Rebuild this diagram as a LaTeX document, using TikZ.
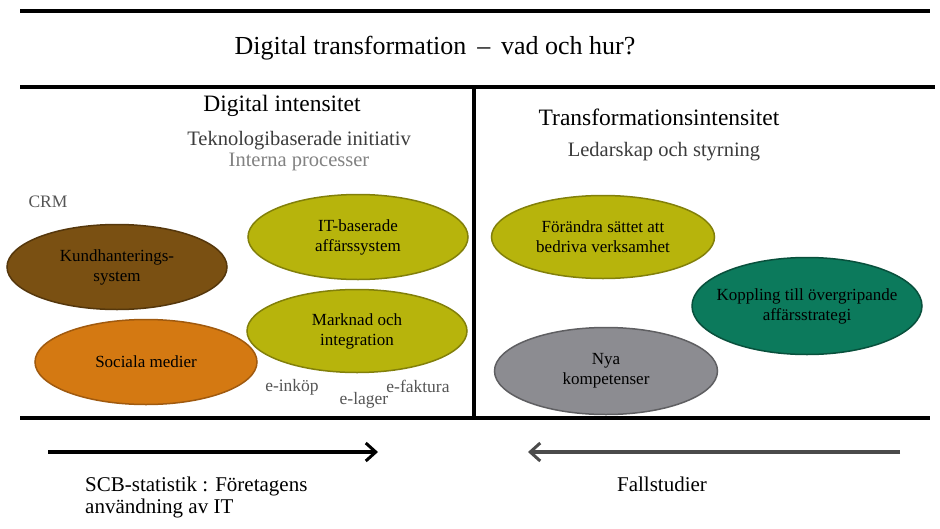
\documentclass[tikz,border=0pt]{standalone}
\usepackage{fontspec}
\setmainfont{Liberation Serif}
\usetikzlibrary{shapes.geometric,arrows.meta}
\definecolor{brownfill}{RGB}{122,80,18}
\definecolor{brownline}{RGB}{85,55,12}
\definecolor{orangefill}{RGB}{212,121,18}
\definecolor{orangeline}{RGB}{160,90,15}
\definecolor{olivefill}{RGB}{183,180,12}
\definecolor{oliveline}{RGB}{130,128,10}
\definecolor{tealfill}{RGB}{12,122,92}
\definecolor{tealline}{RGB}{8,80,60}
\definecolor{grayfill}{RGB}{140,140,145}
\definecolor{grayline}{RGB}{95,95,98}
\definecolor{txtgray}{RGB}{85,85,85}
\definecolor{darkgraytxt}{RGB}{60,60,60}
\definecolor{lightgray}{RGB}{130,130,130}
\definecolor{arrowgray}{RGB}{75,75,75}
\tikzset{
  oval/.style={ellipse, draw, line width=1.5pt, inner xsep=-30pt, inner ysep=0pt, align=center, font=\fontsize{17}{20}\selectfont, text=black},
  rule/.style={line width=4pt, black},
  heading/.style={font=\fontsize{23.5}{26}\selectfont, text=black},
  subhead/.style={font=\fontsize{20.5}{23}\selectfont},
  small/.style={font=\fontsize{17.5}{20}\selectfont, text=txtgray},
  bigarrow/.style={line width=4pt, -{Straight Barb[length=10pt,width=18pt,line width=3pt]}}
}
\begin{document}
\begin{tikzpicture}[x=1pt,y=-1pt]
\useasboundingbox[fill=white] (0,0) rectangle (940,528);
% rules
\coordinate (t1) at (20,11); \coordinate (t2) at (930,11);
\coordinate (m1) at (20,87); \coordinate (m2) at (935,87);
\coordinate (b1) at (20,418); \coordinate (b2) at (930,418);
\coordinate (v1) at (474,87); \coordinate (v2) at (474,418);
\draw[rule] (t1) -- (t2);
\draw[rule] (m1) -- (m2);
\draw[rule] (b1) -- (b2);
\draw[line width=3.5pt] (v1) -- (v2);
% titles
\node[font=\fontsize{26}{30}\selectfont] (title) at (435,48) {Digital transformation \,--\, vad och hur?};
\node[heading] (di) at (282,106) {Digital intensitet};
\node[subhead, text=darkgraytxt] (tek) at (299,141) {Teknologibaserade initiativ};
\node[subhead, text=lightgray] (ip) at (299,162) {Interna processer};
\node[heading] (ti) at (659,117) {Transformationsintensitet};
\node[subhead, text=darkgraytxt] (ls) at (664,152) {Ledarskap och styrning};
\node[small] (crm) at (48,202) {CRM};
% ellipses
\node[oval, fill=brownfill, draw=brownline, minimum width=220pt, minimum height=85pt] (kund) at (117,267) {Kundhanterings-\\system};
\node[oval, fill=orangefill, draw=orangeline, minimum width=222pt, minimum height=85pt] (soc) at (146,362) {Sociala medier};
\node[oval, fill=olivefill, draw=oliveline, minimum width=220pt, minimum height=85pt] (itb) at (358,237) {IT-baserade\\affärssystem};
\node[oval, fill=olivefill, draw=oliveline, minimum width=220pt, minimum height=83pt] (mark) at (357,331) {Marknad och\\integration};
\node[oval, fill=olivefill, draw=oliveline, minimum width=223pt, minimum height=83pt] (for) at (603,237) {Förändra sättet att\\bedriva verksamhet};
\node[oval, fill=tealfill, draw=tealline, minimum width=230pt, minimum height=97pt] (kopp) at (807,306) {Koppling till övergripande\\affärsstrategi};
\node[oval, fill=grayfill, draw=grayline, minimum width=223pt, minimum height=87pt] (nya) at (606,371) {Nya\\kompetenser};
% small labels
\node[small] (einkop) at (292,387) {e-inköp};
\node[small] (elager) at (364,400) {e-lager};
\node[small] (efakt) at (418,386) {e-faktura};
% arrows
\coordinate (a1) at (48,452); \coordinate (a2) at (378,452);
\coordinate (c1) at (900,452); \coordinate (c2) at (528,452);
\draw[bigarrow, black] (a1) -- (a2);
\draw[bigarrow, arrowgray] (c1) -- (c2);
% bottom texts
\node[font=\fontsize{21}{22}\selectfont, align=left, anchor=base west, inner sep=0pt] (scb) at (85,513) {SCB-statistik : Företagens\\användning av IT};
\node[font=\fontsize{21}{24}\selectfont] (fall) at (662,484) {Fallstudier};
\end{tikzpicture}
\end{document}
